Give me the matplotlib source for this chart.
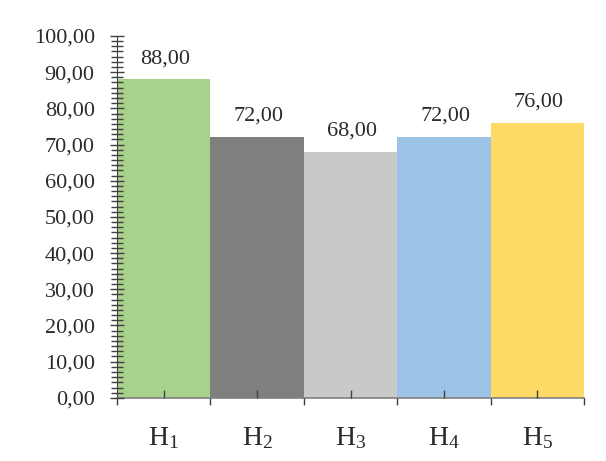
import numpy as np
import matplotlib.pyplot as plt
from matplotlib.ticker import MultipleLocator, FixedLocator, FuncFormatter

plt.rcParams['font.family'] = ['Liberation Serif', 'DejaVu Serif']
plt.rcParams['mathtext.fontset'] = 'custom'
plt.rcParams['mathtext.rm'] = 'Liberation Serif'
plt.rcParams['mathtext.it'] = 'Liberation Serif'

labels = ['H$_1$', 'H$_2$', 'H$_3$', 'H$_4$', 'H$_5$']
values = [88.0, 72.0, 68.0, 72.0, 76.0]
colors = ['#A9D18E', '#7F7F7F', '#C9C9C9', '#9DC3E6', '#FFD966']

fig = plt.figure(figsize=(6.06, 4.61), dpi=100)
ax = fig.add_axes([0.193, 0.137, 0.771, 0.785])

x = np.arange(len(values))
ax.bar(x, values, width=1.0, color=colors, edgecolor='none', zorder=1)

for xi, v in zip(x, values):
    ax.annotate('{:.2f}'.format(v).replace('.', ','), (xi, v),
                xytext=(1, 15), textcoords='offset points',
                ha='center', va='center', fontsize=16, color='#2b2b2b')

ax.set_xlim(-0.5, len(values) - 0.5)
ax.set_ylim(0, 100)

# y axis: major every 10, short minor ticks crossing the axis line
ax.yaxis.set_major_locator(MultipleLocator(10))
ax.yaxis.set_minor_locator(MultipleLocator(10 / 7))
ax.yaxis.set_major_formatter(FuncFormatter(lambda v, p: '{:.2f}'.format(v).replace('.', ',')))
ax.tick_params(axis='y', which='major', direction='inout', length=10, width=1,
               color='#404040', labelsize=16, labelcolor='#2b2b2b', pad=11)
ax.tick_params(axis='y', which='minor', direction='inout', length=8, width=1,
               color='#404040')

# x axis: ticks at bar edges pointing out, small marks at bar centers pointing in
ax.xaxis.set_major_locator(FixedLocator(x))
ax.xaxis.set_minor_locator(FixedLocator(np.arange(len(values) + 1) - 0.5))
ax.set_xticklabels(labels)
ax.tick_params(axis='x', which='major', direction='in', length=6, width=1,
               color='#404040', labelsize=20, labelcolor='#2b2b2b', pad=20)
ax.tick_params(axis='x', which='minor', direction='out', length=5, width=1,
               color='#404040')

for side in ['top', 'right']:
    ax.spines[side].set_visible(False)
ax.spines['left'].set_color('#404040')
ax.spines['bottom'].set_color('#808080')
ax.spines['bottom'].set_linewidth(1.2)
ax.set_axisbelow(False)

fig.savefig('out.png', dpi=100, facecolor='white')
